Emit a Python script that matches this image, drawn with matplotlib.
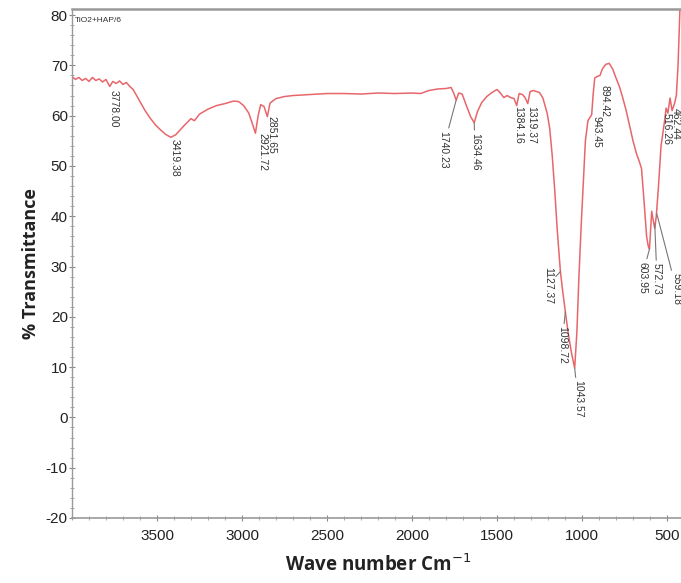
import matplotlib
matplotlib.use('Agg')
import matplotlib.pyplot as plt
from matplotlib.ticker import MultipleLocator

# spectrum (wave number, % transmittance)
wavenumber = [4000, 3980, 3960, 3940, 3920, 3900, 3880, 3860, 3840, 3820, 3800, 3778,
              3760, 3740, 3720, 3700, 3680, 3660, 3640, 3620, 3600, 3570, 3540, 3510,
              3480, 3450, 3419, 3390, 3360, 3330, 3300, 3280, 3250, 3200, 3150, 3100,
              3050, 3020, 2990, 2960, 2935, 2921, 2905, 2890, 2870, 2851, 2835, 2800,
              2750, 2700, 2600, 2500, 2400, 2300, 2200, 2100, 2000, 1950, 1900, 1850,
              1800, 1770, 1755, 1740, 1725, 1705, 1680, 1655, 1634, 1615, 1590, 1560,
              1530, 1500, 1480, 1460, 1440, 1420, 1400, 1384, 1370, 1350, 1335, 1319,
              1305, 1285, 1250, 1230, 1205, 1190, 1175, 1160, 1145, 1127, 1115, 1098,
              1080, 1060, 1043, 1030, 1018, 1005, 992, 980, 965, 950, 943, 935,
              925, 910, 894, 880, 860, 840, 820, 800, 780, 764, 740, 720,
              700, 680, 664, 650, 635, 620, 610, 603, 590, 580, 572, 563,
              550, 535, 516, 505, 495, 482, 470, 455, 445, 435, 425, 418]
transmittance = [67.8, 67.2, 67.6, 67.0, 67.4, 66.8, 67.6, 67.0, 67.3, 66.7, 67.2, 65.8,
                 66.8, 66.4, 66.9, 66.2, 66.6, 65.8, 65.2, 64.0, 62.8, 61.0, 59.5, 58.2,
                 57.2, 56.3, 55.7, 56.2, 57.3, 58.4, 59.4, 59.0, 60.3, 61.3, 62.0, 62.4,
                 62.9, 62.8, 62.0, 60.5, 58.0, 56.5, 60.0, 62.2, 61.8, 59.8, 62.5, 63.4,
                 63.8, 64.0, 64.2, 64.4, 64.4, 64.3, 64.5, 64.4, 64.5, 64.4, 65.0, 65.3,
                 65.4, 65.6, 64.5, 63.1, 64.5, 64.3, 62.0, 59.8, 58.6, 60.8, 62.6, 63.8,
                 64.6, 65.2, 64.5, 63.6, 64.0, 63.6, 63.4, 62.0, 64.4, 64.2, 63.6, 62.4,
                 64.8, 65.0, 64.6, 63.5, 60.5, 57.5, 52.0, 45.0, 37.0, 29.0, 25.5, 21.0,
                 16.5, 12.5, 9.8, 17.0, 28.0, 38.0, 47.0, 55.0, 59.0, 59.8, 60.2, 64.0,
                 67.5, 67.8, 68.0, 69.3, 70.2, 70.4, 69.3, 67.5, 65.8, 64.0, 61.0, 58.0,
                 55.0, 52.5, 51.0, 49.5, 43.0, 36.0, 34.0, 33.5, 41.0, 39.0, 37.6, 40.0,
                 46.0, 54.0, 58.5, 61.5, 60.5, 63.5, 61.0, 62.5, 64.0, 70.0, 80.0, 90.0]

# peak labels: text, peak position, text position (top of the label)
peak_labels = ['3778.00', '3419.38', '2921.72', '2851.65', '1740.23', '1634.46',
               '1384.16', '1319.37', '943.45', '894.42', '1127.37', '1098.72',
               '1043.57', '603.95', '572.73', '559.18', '516.26', '462.44']
peak_x = [3778, 3419, 2921, 2851, 1740, 1634, 1384, 1319, 943, 894, 1127, 1098,
          1043, 603, 572, 560, 516, 462]
peak_y = [65.8, 55.7, 56.5, 59.8, 63.1, 58.6, 62.0, 62.4, 60.2, 68.0, 29.0, 21.0,
          9.8, 33.5, 38.5, 40.5, 58.5, 62.5]
text_x = [3753, 3394, 2882, 2824, 1818, 1629, 1376, 1300, 912, 865, 1200, 1118,
          1024, 647, 559, 445, 501, 450]
text_y = [65.2, 55.3, 56.6, 60.0, 57.0, 56.6, 62.0, 62.0, 60.0, 66.0, 30.0, 18.1,
          7.4, 31.0, 30.7, 28.7, 60.5, 61.5]
with_leader = [False, False, False, False, True, True, False, False, False, False,
               True, True, True, True, True, True, False, False]

plt.rcParams['font.family'] = ['Liberation Sans', 'DejaVu Sans']
plt.rcParams['axes.unicode_minus'] = False

fig = plt.figure(figsize=(6.81, 5.83), dpi=100)
ax = fig.add_axes([0.1057, 0.1115, 0.8987, 0.873])

ax.plot(wavenumber, transmittance, color='#e8666b', lw=1.1)

for i in range(len(peak_labels)):
    if with_leader[i]:
        ax.annotate(peak_labels[i], xy=(peak_x[i], peak_y[i]), xytext=(text_x[i], text_y[i]),
                    rotation=-90, ha='center', va='top', fontsize=7.5, color='#333333',
                    arrowprops=dict(arrowstyle='-', color='#777777', lw=0.8,
                                    shrinkA=0, shrinkB=0))
    else:
        ax.text(text_x[i], text_y[i], peak_labels[i], rotation=-90, ha='center',
                va='top', fontsize=7.5, color='#333333')

ax.text(0.004, 0.985, 'TiO2+HAP/6', transform=ax.transAxes, fontsize=6,
        va='top', ha='left', color='#333333')

ax.set_xlim(4000, 400)
ax.set_ylim(-20, 81.2)
ax.xaxis.set_minor_locator(MultipleLocator(100))
ax.yaxis.set_minor_locator(MultipleLocator(2))
ax.set_xticks([3500, 3000, 2500, 2000, 1500, 1000, 500])
ax.set_yticks(range(-20, 81, 10))

for side in ['left', 'bottom', 'top']:
    ax.spines[side].set_color('#999999')
ax.spines['right'].set_visible(False)
ax.spines['top'].set_linewidth(1.8)
ax.spines['bottom'].set_linewidth(1.2)
ax.spines['left'].set_linewidth(1.0)

ax.tick_params(axis='both', which='major', direction='inout', length=4, width=0.8,
               color='#888888', labelsize=11, labelcolor='#222222', pad=1)
ax.tick_params(axis='both', which='minor', direction='inout', length=2.5, width=0.6,
               color='#999999')
ax.tick_params(axis='x', which='major', pad=6)

ax.set_xlabel('Wave number Cm$^{-1}$', fontsize=13.5, fontweight='bold', family='Open Sans',
              color='#222222', labelpad=8)
ax.set_ylabel('% Transmittance', fontsize=13, fontweight='bold', family='Open Sans',
              color='#222222', labelpad=4)

fig.savefig('out.png', dpi=100)
